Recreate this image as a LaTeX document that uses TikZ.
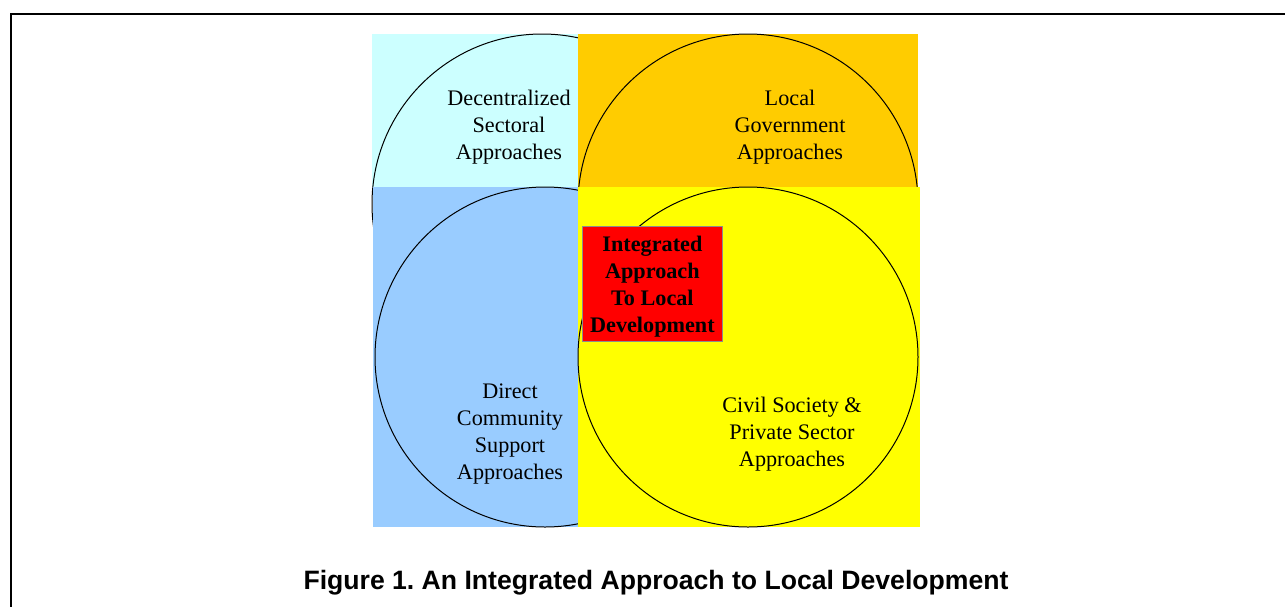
\documentclass[tikz,border=0pt]{standalone}
\usepackage{fontspec}
\setmainfont{Liberation Serif}
\newfontfamily\captionfont{Liberation Sans}
\usepackage{tikz}
\usetikzlibrary{positioning}
\usetikzlibrary{shapes.geometric}
\definecolor{paleCyan}{HTML}{CCFFFF}
\definecolor{goldOrange}{HTML}{FFCC00}
\definecolor{skyBlue}{HTML}{99CCFF}
\definecolor{brightYellow}{HTML}{FFFF00}
\definecolor{boxRed}{HTML}{FF0000}
\frenchspacing
\tikzset{
  % Common styles for the quadrant diagram
  quad/.style={rectangle, fill=#1, inner sep=0pt, outer sep=0pt, anchor=north west},
  ring/.style={circle, draw, line width=0.5pt, inner sep=0pt, outer sep=0pt, minimum size=170pt},
  label/.style={align=center, font=\fontsize{11.1}{13.5}\selectfont}
}

\begin{document}
\begin{tikzpicture}[x=0.5pt, y=-0.5pt]
    % Define styles
    \tikzstyle{core} = [rectangle, draw=black!45, line width=0.4pt, fill=boxRed, inner sep=0pt, anchor=north west, minimum width=70pt, minimum height=57.5pt]
    \tikzstyle{caption} = [font=\captionfont\bfseries\fontsize{13.3}{16}\selectfont]

    \useasboundingbox (0,0) rectangle (1285,606);

    % Page frame
    \coordinate (frameA) at (11,610);
    \coordinate (frameB) at (11,14);
    \coordinate (frameC) at (1295,14);
    \draw [line width=1.3pt] (frameA) -- (frameB) -- (frameC);

    % Place nodes
    \node [quad=paleCyan, minimum width=103pt, minimum height=76.5pt] (sectBox) at (372,34) {};
    \node [ring] (sectRing) at (542,204) {};
    \node [quad=goldOrange, minimum width=170pt, minimum height=76.5pt] (govBox) at (578,34) {};
    \node [ring] (govRing) at (748,204) {};
    \node [quad=skyBlue, minimum width=102.5pt, minimum height=170pt] (commBox) at (373,187) {};
    \node [ring] (commRing) at (545,357) {};
    \node [quad=brightYellow, minimum width=171pt, minimum height=170pt] (civilBox) at (578,187) {};
    \node [ring] (civilRing) at (748,357) {};
    \node [core] (integrated) at (582,226) {};

    % Texts
    \node [label] (sectText) at (509,127) {Decentralized\\Sectoral\\Approaches};
    \node [label] (govText) at (790,127) {Local\\Government\\Approaches};
    \node [label, font=\bfseries\fontsize{11.1}{13.5}\selectfont, yshift=-1.5pt] (integText) at (integrated.center) {Integrated\\Approach\\To Local\\Development};
    \node [label] (commText) at (510,434) {Direct\\Community\\Support\\Approaches};
    \node [label] (civilText) at (792,434) {Civil Society \&\\Private Sector\\Approaches};
    \node [caption] (figCaption) at (656,583) {Figure 1. An Integrated Approach to Local Development};

\end{tikzpicture}
\end{document}
